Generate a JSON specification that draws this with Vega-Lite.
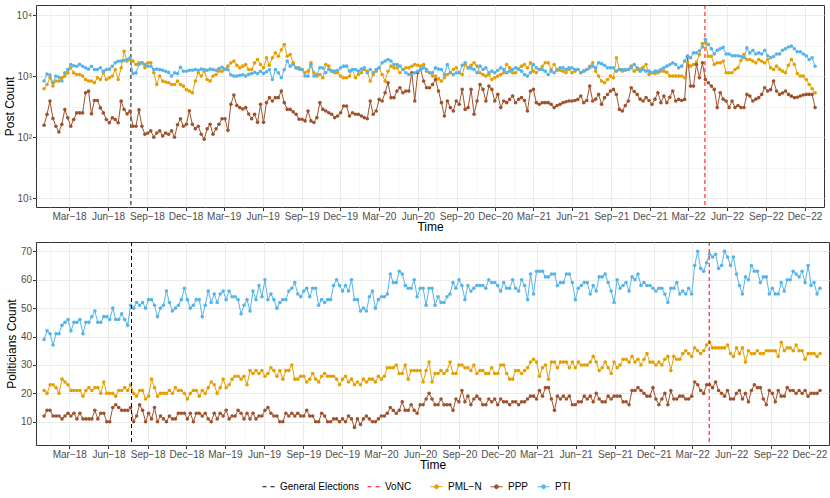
{
  "$schema": "https://vega.github.io/schema/vega-lite/v6.json",
  "description": "Weekly post count and politicians count by party, 2018-2022",
  "padding": {"left": 2, "top": 4, "right": 4, "bottom": 2},
  "background": "white",
  "config": {
    "font": "Liberation Sans",
    "view": {"stroke": "#333333", "strokeWidth": 1},
    "axis": {
      "labelFont": "Liberation Sans",
      "labelFontSize": 10,
      "labelColor": "#4D4D4D",
      "titleFont": "Liberation Sans",
      "titleFontSize": 12,
      "titleFontWeight": "normal",
      "titleColor": "black",
      "tickColor": "#333333",
      "tickSize": 3.5,
      "domain": false,
      "gridColor": "#EBEBEB",
      "labelPadding": 1,
      "titlePadding": 2
    },
    "legend": {
      "labelFont": "Liberation Sans",
      "labelFontSize": 10,
      "labelColor": "black",
      "labelOffset": 5,
      "columnPadding": 6,
      "padding": 0,
      "offset": 9,
      "symbolSize": 144,
      "layout": {"bottom": {"anchor": "middle", "direction": "horizontal", "margin": 18}}
    }
  },
  "datasets": {
    "events": [
      {"week": "2018-07-25", "event": "General Elections"},
      {"week": "2022-04-10", "event": "VoNC"}
    ],
    "posts": [
      {"week":"2018-01-01","PML-N":620,"PPP":157,"PTI":830},
      {"week":"2018-01-08","PML-N":730,"PPP":236,"PTI":1080},
      {"week":"2018-01-15","PML-N":940,"PPP":390,"PTI":1040},
      {"week":"2018-01-22","PML-N":690,"PPP":202,"PTI":780},
      {"week":"2018-01-29","PML-N":830,"PPP":151,"PTI":1000},
      {"week":"2018-02-05","PML-N":830,"PPP":122,"PTI":960},
      {"week":"2018-02-12","PML-N":940,"PPP":162,"PTI":830},
      {"week":"2018-02-19","PML-N":1000,"PPP":284,"PTI":1130},
      {"week":"2018-02-26","PML-N":1130,"PPP":208,"PTI":1280},
      {"week":"2018-03-05","PML-N":1370,"PPP":151,"PTI":1550},
      {"week":"2018-03-12","PML-N":1130,"PPP":195,"PTI":1480},
      {"week":"2018-03-19","PML-N":1064,"PPP":250,"PTI":1450},
      {"week":"2018-03-26","PML-N":1064,"PPP":250,"PTI":1560},
      {"week":"2018-04-02","PML-N":1000,"PPP":250,"PTI":1450},
      {"week":"2018-04-09","PML-N":880,"PPP":533,"PTI":1370},
      {"week":"2018-04-16","PML-N":830,"PPP":568,"PTI":1300},
      {"week":"2018-04-23","PML-N":830,"PPP":241,"PTI":1450},
      {"week":"2018-04-30","PML-N":780,"PPP":400,"PTI":1280},
      {"week":"2018-05-07","PML-N":940,"PPP":400,"PTI":1280},
      {"week":"2018-05-14","PML-N":880,"PPP":302,"PTI":1370},
      {"week":"2018-05-21","PML-N":1133,"PPP":250,"PTI":1200},
      {"week":"2018-05-28","PML-N":880,"PPP":195,"PTI":1280},
      {"week":"2018-06-04","PML-N":940,"PPP":172,"PTI":1300},
      {"week":"2018-06-11","PML-N":1000,"PPP":208,"PTI":1450},
      {"week":"2018-06-18","PML-N":1284,"PPP":195,"PTI":1650},
      {"week":"2018-06-25","PML-N":880,"PPP":172,"PTI":1750},
      {"week":"2018-07-02","PML-N":1367,"PPP":389,"PTI":1760},
      {"week":"2018-07-09","PML-N":2560,"PPP":284,"PTI":1800},
      {"week":"2018-07-16","PML-N":1760,"PPP":241,"PTI":1870},
      {"week":"2018-07-23","PML-N":1870,"PPP":267,"PTI":1990},
      {"week":"2018-07-30","PML-N":1760,"PPP":151,"PTI":1100},
      {"week":"2018-08-06","PML-N":1550,"PPP":151,"PTI":1130},
      {"week":"2018-08-13","PML-N":1650,"PPP":280,"PTI":1550},
      {"week":"2018-08-20","PML-N":1650,"PPP":151,"PTI":1650},
      {"week":"2018-08-27","PML-N":1367,"PPP":112,"PTI":1550},
      {"week":"2018-09-03","PML-N":1650,"PPP":117,"PTI":1450},
      {"week":"2018-09-10","PML-N":1650,"PPP":127,"PTI":1450},
      {"week":"2018-09-17","PML-N":1133,"PPP":100,"PTI":1280},
      {"week":"2018-09-24","PML-N":731,"PPP":117,"PTI":1300},
      {"week":"2018-10-01","PML-N":1000,"PPP":127,"PTI":1280},
      {"week":"2018-10-08","PML-N":829,"PPP":105,"PTI":1250},
      {"week":"2018-10-15","PML-N":800,"PPP":117,"PTI":1200},
      {"week":"2018-10-22","PML-N":778,"PPP":112,"PTI":1150},
      {"week":"2018-10-29","PML-N":731,"PPP":127,"PTI":1000},
      {"week":"2018-11-05","PML-N":731,"PPP":100,"PTI":1130},
      {"week":"2018-11-12","PML-N":829,"PPP":160,"PTI":1100},
      {"week":"2018-11-19","PML-N":731,"PPP":200,"PTI":1400},
      {"week":"2018-11-26","PML-N":687,"PPP":151,"PTI":1200},
      {"week":"2018-12-03","PML-N":600,"PPP":163,"PTI":1200},
      {"week":"2018-12-10","PML-N":569,"PPP":270,"PTI":1250},
      {"week":"2018-12-17","PML-N":535,"PPP":163,"PTI":1250},
      {"week":"2018-12-24","PML-N":829,"PPP":137,"PTI":1280},
      {"week":"2018-12-31","PML-N":1133,"PPP":151,"PTI":1250},
      {"week":"2019-01-07","PML-N":1000,"PPP":112,"PTI":1300},
      {"week":"2019-01-14","PML-N":1206,"PPP":93,"PTI":1280},
      {"week":"2019-01-21","PML-N":882,"PPP":137,"PTI":1250},
      {"week":"2019-01-28","PML-N":829,"PPP":163,"PTI":1300},
      {"week":"2019-02-04","PML-N":1000,"PPP":112,"PTI":1280},
      {"week":"2019-02-11","PML-N":1064,"PPP":137,"PTI":1250},
      {"week":"2019-02-18","PML-N":1206,"PPP":163,"PTI":1330},
      {"week":"2019-02-25","PML-N":1206,"PPP":200,"PTI":1400},
      {"week":"2019-03-04","PML-N":1284,"PPP":200,"PTI":1300},
      {"week":"2019-03-11","PML-N":1455,"PPP":130,"PTI":1280},
      {"week":"2019-03-18","PML-N":1650,"PPP":345,"PTI":1050},
      {"week":"2019-03-25","PML-N":1760,"PPP":490,"PTI":1000},
      {"week":"2019-04-01","PML-N":1500,"PPP":330,"PTI":1000},
      {"week":"2019-04-08","PML-N":1367,"PPP":305,"PTI":1030},
      {"week":"2019-04-15","PML-N":1455,"PPP":290,"PTI":1050},
      {"week":"2019-04-22","PML-N":1550,"PPP":305,"PTI":1000},
      {"week":"2019-04-29","PML-N":1284,"PPP":240,"PTI":1070},
      {"week":"2019-05-06","PML-N":1284,"PPP":200,"PTI":1100},
      {"week":"2019-05-13","PML-N":1650,"PPP":237,"PTI":1150},
      {"week":"2019-05-20","PML-N":1870,"PPP":175,"PTI":1100},
      {"week":"2019-05-27","PML-N":1550,"PPP":345,"PTI":1200},
      {"week":"2019-06-03","PML-N":1367,"PPP":175,"PTI":1100},
      {"week":"2019-06-10","PML-N":1990,"PPP":368,"PTI":1180},
      {"week":"2019-06-17","PML-N":1500,"PPP":444,"PTI":1280},
      {"week":"2019-06-24","PML-N":1990,"PPP":391,"PTI":880},
      {"week":"2019-07-01","PML-N":2400,"PPP":444,"PTI":1280},
      {"week":"2019-07-08","PML-N":2120,"PPP":444,"PTI":1130},
      {"week":"2019-07-15","PML-N":2700,"PPP":569,"PTI":940},
      {"week":"2019-07-22","PML-N":3280,"PPP":368,"PTI":1280},
      {"week":"2019-07-29","PML-N":2120,"PPP":285,"PTI":1760},
      {"week":"2019-08-05","PML-N":2250,"PPP":285,"PTI":1455},
      {"week":"2019-08-12","PML-N":1650,"PPP":260,"PTI":1550},
      {"week":"2019-08-19","PML-N":1367,"PPP":237,"PTI":1367},
      {"week":"2019-08-26","PML-N":1367,"PPP":197,"PTI":1300},
      {"week":"2019-09-02","PML-N":1284,"PPP":197,"PTI":1284},
      {"week":"2019-09-09","PML-N":1133,"PPP":185,"PTI":1000},
      {"week":"2019-09-16","PML-N":1206,"PPP":269,"PTI":1000},
      {"week":"2019-09-23","PML-N":1650,"PPP":185,"PTI":1550},
      {"week":"2019-09-30","PML-N":1133,"PPP":174,"PTI":1000},
      {"week":"2019-10-07","PML-N":1000,"PPP":209,"PTI":1064},
      {"week":"2019-10-14","PML-N":1064,"PPP":368,"PTI":1367},
      {"week":"2019-10-21","PML-N":939,"PPP":285,"PTI":1367},
      {"week":"2019-10-28","PML-N":1550,"PPP":269,"PTI":1133},
      {"week":"2019-11-04","PML-N":1455,"PPP":252,"PTI":1284},
      {"week":"2019-11-11","PML-N":1206,"PPP":237,"PTI":1206},
      {"week":"2019-11-18","PML-N":1133,"PPP":209,"PTI":1206},
      {"week":"2019-11-25","PML-N":1133,"PPP":222,"PTI":1250},
      {"week":"2019-12-02","PML-N":1000,"PPP":252,"PTI":1367},
      {"week":"2019-12-09","PML-N":939,"PPP":324,"PTI":1455},
      {"week":"2019-12-16","PML-N":939,"PPP":324,"PTI":1455},
      {"week":"2019-12-23","PML-N":1000,"PPP":222,"PTI":1206},
      {"week":"2019-12-30","PML-N":1284,"PPP":252,"PTI":1284},
      {"week":"2020-01-06","PML-N":939,"PPP":237,"PTI":1284},
      {"week":"2020-01-13","PML-N":1064,"PPP":237,"PTI":1206},
      {"week":"2020-01-20","PML-N":1133,"PPP":222,"PTI":1300},
      {"week":"2020-01-27","PML-N":1284,"PPP":209,"PTI":1367},
      {"week":"2020-02-03","PML-N":1200,"PPP":200,"PTI":1133},
      {"week":"2020-02-10","PML-N":829,"PPP":391,"PTI":1284},
      {"week":"2020-02-17","PML-N":1064,"PPP":237,"PTI":1133},
      {"week":"2020-02-24","PML-N":1206,"PPP":269,"PTI":1284},
      {"week":"2020-03-02","PML-N":1367,"PPP":416,"PTI":1367},
      {"week":"2020-03-09","PML-N":1064,"PPP":391,"PTI":1650},
      {"week":"2020-03-16","PML-N":829,"PPP":535,"PTI":1760},
      {"week":"2020-03-23","PML-N":1200,"PPP":778,"PTI":1870},
      {"week":"2020-03-30","PML-N":1455,"PPP":444,"PTI":1760},
      {"week":"2020-04-06","PML-N":1367,"PPP":444,"PTI":1550},
      {"week":"2020-04-13","PML-N":1367,"PPP":569,"PTI":1550},
      {"week":"2020-04-20","PML-N":1133,"PPP":645,"PTI":1455},
      {"week":"2020-04-27","PML-N":1284,"PPP":535,"PTI":1284},
      {"week":"2020-05-04","PML-N":1367,"PPP":569,"PTI":1133},
      {"week":"2020-05-11","PML-N":1367,"PPP":569,"PTI":1064},
      {"week":"2020-05-18","PML-N":1450,"PPP":1133,"PTI":1064},
      {"week":"2020-05-25","PML-N":1550,"PPP":391,"PTI":1133},
      {"week":"2020-06-01","PML-N":1500,"PPP":1133,"PTI":1200},
      {"week":"2020-06-08","PML-N":1455,"PPP":1284,"PTI":1284},
      {"week":"2020-06-15","PML-N":1550,"PPP":829,"PTI":1367},
      {"week":"2020-06-22","PML-N":1206,"PPP":645,"PTI":1284},
      {"week":"2020-06-29","PML-N":1133,"PPP":645,"PTI":1133},
      {"week":"2020-07-06","PML-N":1000,"PPP":731,"PTI":1133},
      {"week":"2020-07-13","PML-N":1000,"PPP":882,"PTI":1367},
      {"week":"2020-07-20","PML-N":900,"PPP":569,"PTI":1300},
      {"week":"2020-07-27","PML-N":829,"PPP":368,"PTI":1284},
      {"week":"2020-08-03","PML-N":939,"PPP":222,"PTI":1064},
      {"week":"2020-08-10","PML-N":1064,"PPP":391,"PTI":1550},
      {"week":"2020-08-17","PML-N":1133,"PPP":305,"PTI":1133},
      {"week":"2020-08-24","PML-N":1284,"PPP":269,"PTI":1064},
      {"week":"2020-08-31","PML-N":1367,"PPP":391,"PTI":1133},
      {"week":"2020-09-07","PML-N":1133,"PPP":345,"PTI":1133},
      {"week":"2020-09-14","PML-N":1064,"PPP":606,"PTI":1500},
      {"week":"2020-09-21","PML-N":1550,"PPP":285,"PTI":1650},
      {"week":"2020-09-28","PML-N":1367,"PPP":305,"PTI":1367},
      {"week":"2020-10-05","PML-N":1500,"PPP":606,"PTI":1350},
      {"week":"2020-10-12","PML-N":1650,"PPP":237,"PTI":1284},
      {"week":"2020-10-19","PML-N":1455,"PPP":391,"PTI":1133},
      {"week":"2020-10-26","PML-N":1133,"PPP":731,"PTI":1455},
      {"week":"2020-11-02","PML-N":1064,"PPP":606,"PTI":1284},
      {"week":"2020-11-09","PML-N":1000,"PPP":391,"PTI":1367},
      {"week":"2020-11-16","PML-N":1064,"PPP":687,"PTI":1133},
      {"week":"2020-11-23","PML-N":882,"PPP":606,"PTI":1206},
      {"week":"2020-11-30","PML-N":939,"PPP":391,"PTI":1133},
      {"week":"2020-12-07","PML-N":1000,"PPP":502,"PTI":1250},
      {"week":"2020-12-14","PML-N":1064,"PPP":305,"PTI":1367},
      {"week":"2020-12-21","PML-N":1133,"PPP":391,"PTI":1284},
      {"week":"2020-12-28","PML-N":1550,"PPP":368,"PTI":1133},
      {"week":"2021-01-04","PML-N":1367,"PPP":416,"PTI":1206},
      {"week":"2021-01-11","PML-N":1133,"PPP":472,"PTI":1284},
      {"week":"2021-01-18","PML-N":1133,"PPP":368,"PTI":1367},
      {"week":"2021-01-25","PML-N":1300,"PPP":416,"PTI":1300},
      {"week":"2021-02-01","PML-N":1455,"PPP":444,"PTI":1206},
      {"week":"2021-02-08","PML-N":1550,"PPP":400,"PTI":1064},
      {"week":"2021-02-15","PML-N":1367,"PPP":269,"PTI":1000},
      {"week":"2021-02-22","PML-N":1650,"PPP":569,"PTI":1133},
      {"week":"2021-03-01","PML-N":1206,"PPP":606,"PTI":1550},
      {"week":"2021-03-08","PML-N":1133,"PPP":368,"PTI":1367},
      {"week":"2021-03-15","PML-N":1284,"PPP":345,"PTI":1284},
      {"week":"2021-03-22","PML-N":1450,"PPP":368,"PTI":1284},
      {"week":"2021-03-29","PML-N":1650,"PPP":368,"PTI":1206},
      {"week":"2021-04-05","PML-N":1650,"PPP":368,"PTI":1064},
      {"week":"2021-04-12","PML-N":1284,"PPP":345,"PTI":1206},
      {"week":"2021-04-19","PML-N":1550,"PPP":305,"PTI":1133},
      {"week":"2021-04-26","PML-N":1284,"PPP":330,"PTI":1250},
      {"week":"2021-05-03","PML-N":1250,"PPP":345,"PTI":1367},
      {"week":"2021-05-10","PML-N":1206,"PPP":368,"PTI":1367},
      {"week":"2021-05-17","PML-N":1133,"PPP":380,"PTI":1284},
      {"week":"2021-05-24","PML-N":1284,"PPP":391,"PTI":1367},
      {"week":"2021-05-31","PML-N":1133,"PPP":391,"PTI":1367},
      {"week":"2021-06-07","PML-N":1200,"PPP":400,"PTI":1284},
      {"week":"2021-06-14","PML-N":1284,"PPP":416,"PTI":1284},
      {"week":"2021-06-21","PML-N":1133,"PPP":472,"PTI":1133},
      {"week":"2021-06-28","PML-N":1206,"PPP":368,"PTI":1206},
      {"week":"2021-07-05","PML-N":1284,"PPP":400,"PTI":1284},
      {"week":"2021-07-12","PML-N":1450,"PPP":687,"PTI":1367},
      {"week":"2021-07-19","PML-N":1650,"PPP":391,"PTI":1455},
      {"week":"2021-07-26","PML-N":1206,"PPP":420,"PTI":1367},
      {"week":"2021-08-02","PML-N":1000,"PPP":502,"PTI":1650},
      {"week":"2021-08-09","PML-N":829,"PPP":345,"PTI":1600},
      {"week":"2021-08-16","PML-N":778,"PPP":444,"PTI":1500},
      {"week":"2021-08-23","PML-N":880,"PPP":500,"PTI":1367},
      {"week":"2021-08-30","PML-N":1000,"PPP":569,"PTI":1367},
      {"week":"2021-09-06","PML-N":939,"PPP":606,"PTI":1367},
      {"week":"2021-09-13","PML-N":1990,"PPP":500,"PTI":1206},
      {"week":"2021-09-20","PML-N":1284,"PPP":285,"PTI":1284},
      {"week":"2021-09-27","PML-N":1206,"PPP":269,"PTI":1284},
      {"week":"2021-10-04","PML-N":1250,"PPP":330,"PTI":1284},
      {"week":"2021-10-11","PML-N":1284,"PPP":391,"PTI":1284},
      {"week":"2021-10-18","PML-N":1455,"PPP":645,"PTI":1367},
      {"week":"2021-10-25","PML-N":1206,"PPP":560,"PTI":1550},
      {"week":"2021-11-01","PML-N":1284,"PPP":502,"PTI":1367},
      {"week":"2021-11-08","PML-N":1300,"PPP":420,"PTI":1206},
      {"week":"2021-11-15","PML-N":1400,"PPP":391,"PTI":1284},
      {"week":"2021-11-22","PML-N":1550,"PPP":444,"PTI":1206},
      {"week":"2021-11-29","PML-N":1064,"PPP":400,"PTI":1206},
      {"week":"2021-12-06","PML-N":1133,"PPP":345,"PTI":1133},
      {"week":"2021-12-13","PML-N":1100,"PPP":420,"PTI":1206},
      {"week":"2021-12-20","PML-N":1133,"PPP":535,"PTI":1206},
      {"week":"2021-12-27","PML-N":1206,"PPP":368,"PTI":1284},
      {"week":"2022-01-03","PML-N":1206,"PPP":472,"PTI":1367},
      {"week":"2022-01-10","PML-N":1150,"PPP":368,"PTI":1455},
      {"week":"2022-01-17","PML-N":1000,"PPP":450,"PTI":1550},
      {"week":"2022-01-24","PML-N":1000,"PPP":569,"PTI":1650},
      {"week":"2022-01-31","PML-N":1000,"PPP":391,"PTI":1550},
      {"week":"2022-02-07","PML-N":1000,"PPP":416,"PTI":1367},
      {"week":"2022-02-14","PML-N":1000,"PPP":400,"PTI":1455},
      {"week":"2022-02-21","PML-N":939,"PPP":416,"PTI":1760},
      {"week":"2022-02-28","PML-N":1650,"PPP":2120,"PTI":2130},
      {"week":"2022-03-07","PML-N":1455,"PPP":687,"PTI":2000},
      {"week":"2022-03-14","PML-N":1550,"PPP":687,"PTI":2400},
      {"week":"2022-03-21","PML-N":1700,"PPP":1550,"PTI":2400},
      {"week":"2022-03-28","PML-N":2250,"PPP":939,"PTI":2600},
      {"week":"2022-04-04","PML-N":3400,"PPP":1650,"PTI":3000},
      {"week":"2022-04-11","PML-N":3490,"PPP":882,"PTI":4000},
      {"week":"2022-04-18","PML-N":2120,"PPP":780,"PTI":3300},
      {"week":"2022-04-25","PML-N":2120,"PPP":687,"PTI":2800},
      {"week":"2022-05-02","PML-N":1550,"PPP":606,"PTI":2300},
      {"week":"2022-05-09","PML-N":1650,"PPP":305,"PTI":2650},
      {"week":"2022-05-16","PML-N":1650,"PPP":535,"PTI":2800},
      {"week":"2022-05-23","PML-N":1760,"PPP":420,"PTI":2950},
      {"week":"2022-05-30","PML-N":1133,"PPP":391,"PTI":2300},
      {"week":"2022-06-06","PML-N":1133,"PPP":305,"PTI":2300},
      {"week":"2022-06-13","PML-N":1133,"PPP":391,"PTI":2150},
      {"week":"2022-06-20","PML-N":1284,"PPP":305,"PTI":2150},
      {"week":"2022-06-27","PML-N":1367,"PPP":330,"PTI":2150},
      {"week":"2022-07-04","PML-N":1800,"PPP":305,"PTI":2100},
      {"week":"2022-07-11","PML-N":2250,"PPP":305,"PTI":2000},
      {"week":"2022-07-18","PML-N":1870,"PPP":502,"PTI":2900},
      {"week":"2022-07-25","PML-N":1870,"PPP":472,"PTI":2400},
      {"week":"2022-08-01","PML-N":1760,"PPP":391,"PTI":2650},
      {"week":"2022-08-08","PML-N":1650,"PPP":420,"PTI":2300},
      {"week":"2022-08-15","PML-N":1870,"PPP":444,"PTI":2400},
      {"week":"2022-08-22","PML-N":1750,"PPP":502,"PTI":2300},
      {"week":"2022-08-29","PML-N":1650,"PPP":645,"PTI":2650},
      {"week":"2022-09-05","PML-N":1870,"PPP":569,"PTI":2150},
      {"week":"2022-09-12","PML-N":1367,"PPP":600,"PTI":2000},
      {"week":"2022-09-19","PML-N":1284,"PPP":829,"PTI":2100},
      {"week":"2022-09-26","PML-N":1455,"PPP":569,"PTI":2300},
      {"week":"2022-10-03","PML-N":1300,"PPP":502,"PTI":2300},
      {"week":"2022-10-10","PML-N":1206,"PPP":530,"PTI":2650},
      {"week":"2022-10-17","PML-N":1133,"PPP":569,"PTI":2800},
      {"week":"2022-10-24","PML-N":1500,"PPP":502,"PTI":3000},
      {"week":"2022-10-31","PML-N":1870,"PPP":470,"PTI":3100},
      {"week":"2022-11-07","PML-N":1550,"PPP":444,"PTI":2800},
      {"week":"2022-11-14","PML-N":1100,"PPP":450,"PTI":2500},
      {"week":"2022-11-21","PML-N":1000,"PPP":472,"PTI":2500},
      {"week":"2022-11-28","PML-N":1000,"PPP":490,"PTI":2300},
      {"week":"2022-12-05","PML-N":882,"PPP":502,"PTI":2150},
      {"week":"2022-12-12","PML-N":731,"PPP":502,"PTI":1870},
      {"week":"2022-12-19","PML-N":620,"PPP":502,"PTI":2000},
      {"week":"2022-12-26","PML-N":535,"PPP":305,"PTI":1450}
    ],
    "politicians": [
      {"week":"2018-01-01","PML-N":21,"PPP":12,"PTI":39},
      {"week":"2018-01-08","PML-N":20,"PPP":14,"PTI":42},
      {"week":"2018-01-15","PML-N":23,"PPP":14,"PTI":41},
      {"week":"2018-01-22","PML-N":23,"PPP":12,"PTI":37},
      {"week":"2018-01-29","PML-N":22,"PPP":12,"PTI":41},
      {"week":"2018-02-05","PML-N":20,"PPP":12,"PTI":41},
      {"week":"2018-02-12","PML-N":25,"PPP":11,"PTI":44},
      {"week":"2018-02-19","PML-N":24,"PPP":12,"PTI":45},
      {"week":"2018-02-26","PML-N":23,"PPP":13,"PTI":46},
      {"week":"2018-03-05","PML-N":21,"PPP":12,"PTI":42},
      {"week":"2018-03-12","PML-N":21,"PPP":13,"PTI":45},
      {"week":"2018-03-19","PML-N":21,"PPP":11,"PTI":45},
      {"week":"2018-03-26","PML-N":21,"PPP":13,"PTI":46},
      {"week":"2018-04-02","PML-N":19,"PPP":11,"PTI":41},
      {"week":"2018-04-09","PML-N":21,"PPP":11,"PTI":45},
      {"week":"2018-04-16","PML-N":22,"PPP":11,"PTI":45},
      {"week":"2018-04-23","PML-N":21,"PPP":11,"PTI":47},
      {"week":"2018-04-30","PML-N":22,"PPP":14,"PTI":49},
      {"week":"2018-05-07","PML-N":22,"PPP":11,"PTI":45},
      {"week":"2018-05-14","PML-N":20,"PPP":13,"PTI":45},
      {"week":"2018-05-21","PML-N":24,"PPP":13,"PTI":47},
      {"week":"2018-05-28","PML-N":20,"PPP":10,"PTI":47},
      {"week":"2018-06-04","PML-N":20,"PPP":10,"PTI":46},
      {"week":"2018-06-11","PML-N":20,"PPP":15,"PTI":50},
      {"week":"2018-06-18","PML-N":19,"PPP":16,"PTI":46},
      {"week":"2018-06-25","PML-N":21,"PPP":15,"PTI":46},
      {"week":"2018-07-02","PML-N":21,"PPP":14,"PTI":48},
      {"week":"2018-07-09","PML-N":22,"PPP":14,"PTI":46},
      {"week":"2018-07-16","PML-N":21,"PPP":14,"PTI":44},
      {"week":"2018-07-23","PML-N":23,"PPP":15,"PTI":51},
      {"week":"2018-07-30","PML-N":20,"PPP":10,"PTI":50},
      {"week":"2018-08-06","PML-N":19,"PPP":12,"PTI":52},
      {"week":"2018-08-13","PML-N":21,"PPP":16,"PTI":51},
      {"week":"2018-08-20","PML-N":21,"PPP":14,"PTI":52},
      {"week":"2018-08-27","PML-N":18,"PPP":10,"PTI":50},
      {"week":"2018-09-03","PML-N":19,"PPP":13,"PTI":53},
      {"week":"2018-09-10","PML-N":25,"PPP":11,"PTI":53},
      {"week":"2018-09-17","PML-N":22,"PPP":15,"PTI":51},
      {"week":"2018-09-24","PML-N":19,"PPP":10,"PTI":47},
      {"week":"2018-10-01","PML-N":20,"PPP":12,"PTI":50},
      {"week":"2018-10-08","PML-N":20,"PPP":11,"PTI":51},
      {"week":"2018-10-15","PML-N":20,"PPP":10,"PTI":56},
      {"week":"2018-10-22","PML-N":21,"PPP":12,"PTI":52},
      {"week":"2018-10-29","PML-N":20,"PPP":11,"PTI":49},
      {"week":"2018-11-05","PML-N":22,"PPP":11,"PTI":50},
      {"week":"2018-11-12","PML-N":21,"PPP":13,"PTI":51},
      {"week":"2018-11-19","PML-N":21,"PPP":13,"PTI":53},
      {"week":"2018-11-26","PML-N":20,"PPP":13,"PTI":57},
      {"week":"2018-12-03","PML-N":18,"PPP":11,"PTI":53},
      {"week":"2018-12-10","PML-N":20,"PPP":13,"PTI":50},
      {"week":"2018-12-17","PML-N":21,"PPP":10,"PTI":51},
      {"week":"2018-12-24","PML-N":21,"PPP":13,"PTI":53},
      {"week":"2018-12-31","PML-N":19,"PPP":13,"PTI":53},
      {"week":"2019-01-07","PML-N":21,"PPP":12,"PTI":47},
      {"week":"2019-01-14","PML-N":20,"PPP":13,"PTI":51},
      {"week":"2019-01-21","PML-N":22,"PPP":11,"PTI":56},
      {"week":"2019-01-28","PML-N":24,"PPP":10,"PTI":52},
      {"week":"2019-02-04","PML-N":23,"PPP":13,"PTI":55},
      {"week":"2019-02-11","PML-N":20,"PPP":11,"PTI":52},
      {"week":"2019-02-18","PML-N":22,"PPP":13,"PTI":55},
      {"week":"2019-02-25","PML-N":25,"PPP":12,"PTI":56},
      {"week":"2019-03-04","PML-N":22,"PPP":14,"PTI":53},
      {"week":"2019-03-11","PML-N":23,"PPP":11,"PTI":56},
      {"week":"2019-03-18","PML-N":25,"PPP":12,"PTI":54},
      {"week":"2019-03-25","PML-N":26,"PPP":12,"PTI":54},
      {"week":"2019-04-01","PML-N":26,"PPP":14,"PTI":53},
      {"week":"2019-04-08","PML-N":25,"PPP":13,"PTI":48},
      {"week":"2019-04-15","PML-N":26,"PPP":11,"PTI":51},
      {"week":"2019-04-22","PML-N":23,"PPP":13,"PTI":53},
      {"week":"2019-04-29","PML-N":28,"PPP":11,"PTI":49},
      {"week":"2019-05-06","PML-N":27,"PPP":13,"PTI":56},
      {"week":"2019-05-13","PML-N":28,"PPP":11,"PTI":53},
      {"week":"2019-05-20","PML-N":27,"PPP":12,"PTI":58},
      {"week":"2019-05-27","PML-N":28,"PPP":12,"PTI":54},
      {"week":"2019-06-03","PML-N":26,"PPP":14,"PTI":60},
      {"week":"2019-06-10","PML-N":27,"PPP":15,"PTI":53},
      {"week":"2019-06-17","PML-N":29,"PPP":13,"PTI":55},
      {"week":"2019-06-24","PML-N":28,"PPP":12,"PTI":53},
      {"week":"2019-07-01","PML-N":26,"PPP":12,"PTI":50},
      {"week":"2019-07-08","PML-N":28,"PPP":10,"PTI":52},
      {"week":"2019-07-15","PML-N":25,"PPP":10,"PTI":53},
      {"week":"2019-07-22","PML-N":28,"PPP":13,"PTI":53},
      {"week":"2019-07-29","PML-N":28,"PPP":12,"PTI":56},
      {"week":"2019-08-05","PML-N":30,"PPP":13,"PTI":57},
      {"week":"2019-08-12","PML-N":25,"PPP":12,"PTI":59},
      {"week":"2019-08-19","PML-N":25,"PPP":13,"PTI":55},
      {"week":"2019-08-26","PML-N":26,"PPP":12,"PTI":54},
      {"week":"2019-09-02","PML-N":26,"PPP":12,"PTI":56},
      {"week":"2019-09-09","PML-N":24,"PPP":14,"PTI":57},
      {"week":"2019-09-16","PML-N":25,"PPP":12,"PTI":54},
      {"week":"2019-09-23","PML-N":27,"PPP":12,"PTI":57},
      {"week":"2019-09-30","PML-N":25,"PPP":10,"PTI":57},
      {"week":"2019-10-07","PML-N":24,"PPP":10,"PTI":51},
      {"week":"2019-10-14","PML-N":26,"PPP":13,"PTI":53},
      {"week":"2019-10-21","PML-N":27,"PPP":12,"PTI":52},
      {"week":"2019-10-28","PML-N":26,"PPP":10,"PTI":53},
      {"week":"2019-11-04","PML-N":26,"PPP":10,"PTI":53},
      {"week":"2019-11-11","PML-N":26,"PPP":11,"PTI":58},
      {"week":"2019-11-18","PML-N":25,"PPP":11,"PTI":60},
      {"week":"2019-11-25","PML-N":23,"PPP":10,"PTI":58},
      {"week":"2019-12-02","PML-N":25,"PPP":11,"PTI":56},
      {"week":"2019-12-09","PML-N":26,"PPP":10,"PTI":58},
      {"week":"2019-12-16","PML-N":24,"PPP":12,"PTI":56},
      {"week":"2019-12-23","PML-N":25,"PPP":11,"PTI":60},
      {"week":"2019-12-30","PML-N":23,"PPP":8,"PTI":53},
      {"week":"2020-01-06","PML-N":24,"PPP":11,"PTI":53},
      {"week":"2020-01-13","PML-N":23,"PPP":9,"PTI":49},
      {"week":"2020-01-20","PML-N":25,"PPP":11,"PTI":50},
      {"week":"2020-01-27","PML-N":24,"PPP":12,"PTI":49},
      {"week":"2020-02-03","PML-N":25,"PPP":11,"PTI":54},
      {"week":"2020-02-10","PML-N":25,"PPP":10,"PTI":56},
      {"week":"2020-02-17","PML-N":24,"PPP":10,"PTI":50},
      {"week":"2020-02-24","PML-N":26,"PPP":11,"PTI":53},
      {"week":"2020-03-02","PML-N":25,"PPP":12,"PTI":54},
      {"week":"2020-03-09","PML-N":26,"PPP":12,"PTI":54},
      {"week":"2020-03-16","PML-N":29,"PPP":13,"PTI":55},
      {"week":"2020-03-23","PML-N":29,"PPP":15,"PTI":62},
      {"week":"2020-03-30","PML-N":29,"PPP":14,"PTI":59},
      {"week":"2020-04-06","PML-N":30,"PPP":13,"PTI":59},
      {"week":"2020-04-13","PML-N":27,"PPP":14,"PTI":63},
      {"week":"2020-04-20","PML-N":27,"PPP":17,"PTI":62},
      {"week":"2020-04-27","PML-N":30,"PPP":14,"PTI":58},
      {"week":"2020-05-04","PML-N":25,"PPP":14,"PTI":57},
      {"week":"2020-05-11","PML-N":28,"PPP":16,"PTI":57},
      {"week":"2020-05-18","PML-N":28,"PPP":14,"PTI":60},
      {"week":"2020-05-25","PML-N":28,"PPP":13,"PTI":54},
      {"week":"2020-06-01","PML-N":28,"PPP":16,"PTI":57},
      {"week":"2020-06-08","PML-N":24,"PPP":16,"PTI":57},
      {"week":"2020-06-15","PML-N":28,"PPP":18,"PTI":51},
      {"week":"2020-06-22","PML-N":31,"PPP":20,"PTI":57},
      {"week":"2020-06-29","PML-N":24,"PPP":18,"PTI":57},
      {"week":"2020-07-06","PML-N":27,"PPP":16,"PTI":51},
      {"week":"2020-07-13","PML-N":27,"PPP":16,"PTI":54},
      {"week":"2020-07-20","PML-N":28,"PPP":18,"PTI":52},
      {"week":"2020-07-27","PML-N":27,"PPP":16,"PTI":52},
      {"week":"2020-08-03","PML-N":28,"PPP":16,"PTI":54},
      {"week":"2020-08-10","PML-N":31,"PPP":16,"PTI":55},
      {"week":"2020-08-17","PML-N":27,"PPP":14,"PTI":59},
      {"week":"2020-08-24","PML-N":27,"PPP":18,"PTI":57},
      {"week":"2020-08-31","PML-N":30,"PPP":17,"PTI":60},
      {"week":"2020-09-07","PML-N":30,"PPP":21,"PTI":58},
      {"week":"2020-09-14","PML-N":29,"PPP":17,"PTI":53},
      {"week":"2020-09-21","PML-N":29,"PPP":19,"PTI":58},
      {"week":"2020-09-28","PML-N":28,"PPP":16,"PTI":56},
      {"week":"2020-10-05","PML-N":30,"PPP":18,"PTI":57},
      {"week":"2020-10-12","PML-N":27,"PPP":19,"PTI":58},
      {"week":"2020-10-19","PML-N":28,"PPP":18,"PTI":58},
      {"week":"2020-10-26","PML-N":28,"PPP":16,"PTI":58},
      {"week":"2020-11-02","PML-N":27,"PPP":16,"PTI":57},
      {"week":"2020-11-09","PML-N":27,"PPP":18,"PTI":60},
      {"week":"2020-11-16","PML-N":29,"PPP":17,"PTI":59},
      {"week":"2020-11-23","PML-N":27,"PPP":18,"PTI":59},
      {"week":"2020-11-30","PML-N":27,"PPP":16,"PTI":58},
      {"week":"2020-12-07","PML-N":30,"PPP":18,"PTI":56},
      {"week":"2020-12-14","PML-N":30,"PPP":17,"PTI":59},
      {"week":"2020-12-21","PML-N":27,"PPP":17,"PTI":57},
      {"week":"2020-12-28","PML-N":25,"PPP":16,"PTI":57},
      {"week":"2021-01-04","PML-N":25,"PPP":17,"PTI":60},
      {"week":"2021-01-11","PML-N":28,"PPP":17,"PTI":57},
      {"week":"2021-01-18","PML-N":28,"PPP":16,"PTI":56},
      {"week":"2021-01-25","PML-N":27,"PPP":17,"PTI":60},
      {"week":"2021-02-01","PML-N":28,"PPP":17,"PTI":58},
      {"week":"2021-02-08","PML-N":29,"PPP":18,"PTI":53},
      {"week":"2021-02-15","PML-N":31,"PPP":19,"PTI":62},
      {"week":"2021-02-22","PML-N":32,"PPP":19,"PTI":55},
      {"week":"2021-03-01","PML-N":31,"PPP":18,"PTI":63},
      {"week":"2021-03-08","PML-N":26,"PPP":21,"PTI":63},
      {"week":"2021-03-15","PML-N":29,"PPP":19,"PTI":63},
      {"week":"2021-03-22","PML-N":30,"PPP":22,"PTI":61},
      {"week":"2021-03-29","PML-N":25,"PPP":22,"PTI":61},
      {"week":"2021-04-05","PML-N":31,"PPP":18,"PTI":62},
      {"week":"2021-04-12","PML-N":31,"PPP":14,"PTI":62},
      {"week":"2021-04-19","PML-N":29,"PPP":19,"PTI":58},
      {"week":"2021-04-26","PML-N":31,"PPP":18,"PTI":59},
      {"week":"2021-05-03","PML-N":31,"PPP":19,"PTI":59},
      {"week":"2021-05-10","PML-N":31,"PPP":18,"PTI":62},
      {"week":"2021-05-17","PML-N":29,"PPP":19,"PTI":62},
      {"week":"2021-05-24","PML-N":31,"PPP":16,"PTI":59},
      {"week":"2021-05-31","PML-N":29,"PPP":16,"PTI":53},
      {"week":"2021-06-07","PML-N":31,"PPP":17,"PTI":57},
      {"week":"2021-06-14","PML-N":30,"PPP":17,"PTI":58},
      {"week":"2021-06-21","PML-N":30,"PPP":19,"PTI":59},
      {"week":"2021-06-28","PML-N":30,"PPP":18,"PTI":59},
      {"week":"2021-07-05","PML-N":31,"PPP":19,"PTI":55},
      {"week":"2021-07-12","PML-N":33,"PPP":17,"PTI":58},
      {"week":"2021-07-19","PML-N":31,"PPP":20,"PTI":56},
      {"week":"2021-07-26","PML-N":28,"PPP":18,"PTI":61},
      {"week":"2021-08-02","PML-N":29,"PPP":17,"PTI":61},
      {"week":"2021-08-09","PML-N":31,"PPP":17,"PTI":62},
      {"week":"2021-08-16","PML-N":29,"PPP":19,"PTI":59},
      {"week":"2021-08-23","PML-N":27,"PPP":18,"PTI":56},
      {"week":"2021-08-30","PML-N":31,"PPP":19,"PTI":52},
      {"week":"2021-09-06","PML-N":29,"PPP":19,"PTI":60},
      {"week":"2021-09-13","PML-N":30,"PPP":19,"PTI":57},
      {"week":"2021-09-20","PML-N":32,"PPP":17,"PTI":58},
      {"week":"2021-09-27","PML-N":32,"PPP":17,"PTI":59},
      {"week":"2021-10-04","PML-N":31,"PPP":16,"PTI":56},
      {"week":"2021-10-11","PML-N":33,"PPP":21,"PTI":61},
      {"week":"2021-10-18","PML-N":31,"PPP":21,"PTI":60},
      {"week":"2021-10-25","PML-N":32,"PPP":22,"PTI":62},
      {"week":"2021-11-01","PML-N":30,"PPP":21,"PTI":58},
      {"week":"2021-11-08","PML-N":32,"PPP":20,"PTI":59},
      {"week":"2021-11-15","PML-N":34,"PPP":19,"PTI":58},
      {"week":"2021-11-22","PML-N":31,"PPP":19,"PTI":58},
      {"week":"2021-11-29","PML-N":31,"PPP":22,"PTI":57},
      {"week":"2021-12-06","PML-N":30,"PPP":18,"PTI":56},
      {"week":"2021-12-13","PML-N":31,"PPP":16,"PTI":57},
      {"week":"2021-12-20","PML-N":30,"PPP":18,"PTI":57},
      {"week":"2021-12-27","PML-N":32,"PPP":20,"PTI":55},
      {"week":"2022-01-03","PML-N":33,"PPP":16,"PTI":52},
      {"week":"2022-01-10","PML-N":28,"PPP":21,"PTI":57},
      {"week":"2022-01-17","PML-N":33,"PPP":18,"PTI":57},
      {"week":"2022-01-24","PML-N":32,"PPP":18,"PTI":59},
      {"week":"2022-01-31","PML-N":32,"PPP":19,"PTI":55},
      {"week":"2022-02-07","PML-N":34,"PPP":19,"PTI":56},
      {"week":"2022-02-14","PML-N":35,"PPP":18,"PTI":55},
      {"week":"2022-02-21","PML-N":34,"PPP":18,"PTI":57},
      {"week":"2022-02-28","PML-N":33,"PPP":19,"PTI":55},
      {"week":"2022-03-07","PML-N":36,"PPP":24,"PTI":65},
      {"week":"2022-03-14","PML-N":35,"PPP":23,"PTI":70},
      {"week":"2022-03-21","PML-N":34,"PPP":21,"PTI":64},
      {"week":"2022-03-28","PML-N":35,"PPP":20,"PTI":63},
      {"week":"2022-04-04","PML-N":37,"PPP":23,"PTI":66},
      {"week":"2022-04-11","PML-N":38,"PPP":23,"PTI":69},
      {"week":"2022-04-18","PML-N":36,"PPP":22,"PTI":68},
      {"week":"2022-04-25","PML-N":36,"PPP":24,"PTI":69},
      {"week":"2022-05-02","PML-N":36,"PPP":21,"PTI":64},
      {"week":"2022-05-09","PML-N":36,"PPP":20,"PTI":65},
      {"week":"2022-05-16","PML-N":36,"PPP":19,"PTI":70},
      {"week":"2022-05-23","PML-N":37,"PPP":21,"PTI":68},
      {"week":"2022-05-30","PML-N":34,"PPP":18,"PTI":65},
      {"week":"2022-06-06","PML-N":33,"PPP":18,"PTI":68},
      {"week":"2022-06-13","PML-N":36,"PPP":20,"PTI":62},
      {"week":"2022-06-20","PML-N":34,"PPP":21,"PTI":58},
      {"week":"2022-06-27","PML-N":36,"PPP":18,"PTI":55},
      {"week":"2022-07-04","PML-N":31,"PPP":20,"PTI":61},
      {"week":"2022-07-11","PML-N":35,"PPP":17,"PTI":60},
      {"week":"2022-07-18","PML-N":34,"PPP":21,"PTI":65},
      {"week":"2022-07-25","PML-N":34,"PPP":23,"PTI":63},
      {"week":"2022-08-01","PML-N":35,"PPP":22,"PTI":63},
      {"week":"2022-08-08","PML-N":34,"PPP":22,"PTI":59},
      {"week":"2022-08-15","PML-N":34,"PPP":18,"PTI":61},
      {"week":"2022-08-22","PML-N":35,"PPP":16,"PTI":61},
      {"week":"2022-08-29","PML-N":35,"PPP":21,"PTI":55},
      {"week":"2022-09-05","PML-N":35,"PPP":20,"PTI":57},
      {"week":"2022-09-12","PML-N":35,"PPP":17,"PTI":55},
      {"week":"2022-09-19","PML-N":33,"PPP":21,"PTI":55},
      {"week":"2022-09-26","PML-N":38,"PPP":19,"PTI":59},
      {"week":"2022-10-03","PML-N":35,"PPP":19,"PTI":56},
      {"week":"2022-10-10","PML-N":36,"PPP":22,"PTI":60},
      {"week":"2022-10-17","PML-N":36,"PPP":21,"PTI":60},
      {"week":"2022-10-24","PML-N":35,"PPP":21,"PTI":63},
      {"week":"2022-10-31","PML-N":37,"PPP":20,"PTI":62},
      {"week":"2022-11-07","PML-N":35,"PPP":21,"PTI":61},
      {"week":"2022-11-14","PML-N":35,"PPP":20,"PTI":63},
      {"week":"2022-11-21","PML-N":32,"PPP":21,"PTI":59},
      {"week":"2022-11-28","PML-N":34,"PPP":19,"PTI":65},
      {"week":"2022-12-05","PML-N":34,"PPP":20,"PTI":58},
      {"week":"2022-12-12","PML-N":34,"PPP":20,"PTI":59},
      {"week":"2022-12-19","PML-N":33,"PPP":20,"PTI":55},
      {"week":"2022-12-26","PML-N":34,"PPP":21,"PTI":57}
    ]
  },
  "columns": 1,
  "align": "none",
  "spacing": 8,
  "concat": [
    {
      "width": 788,
      "height": 202,
      "encoding": {
        "x": {
          "field": "week",
          "type": "temporal",
          "title": "Time",
          "scale": {"type": "utc", "domain": [{"year": 2017, "month": 12, "date": 13, "utc": true}, {"year": 2023, "month": 1, "date": 16, "utc": true}]},
          "axis": {
            "values": [
              {"year": 2018, "month": 1, "date": 15, "utc": true}, {"year": 2018, "month": 3, "date": 1, "utc": true}, {"year": 2018, "month": 4, "date": 16, "utc": true}, {"year": 2018, "month": 6, "date": 1, "utc": true},
              {"year": 2018, "month": 7, "date": 17, "utc": true}, {"year": 2018, "month": 9, "date": 1, "utc": true}, {"year": 2018, "month": 10, "date": 16, "utc": true}, {"year": 2018, "month": 12, "date": 1, "utc": true},
              {"year": 2019, "month": 1, "date": 15, "utc": true}, {"year": 2019, "month": 3, "date": 1, "utc": true}, {"year": 2019, "month": 4, "date": 16, "utc": true}, {"year": 2019, "month": 6, "date": 1, "utc": true},
              {"year": 2019, "month": 7, "date": 17, "utc": true}, {"year": 2019, "month": 9, "date": 1, "utc": true}, {"year": 2019, "month": 10, "date": 16, "utc": true}, {"year": 2019, "month": 12, "date": 1, "utc": true},
              {"year": 2020, "month": 1, "date": 15, "utc": true}, {"year": 2020, "month": 3, "date": 1, "utc": true}, {"year": 2020, "month": 4, "date": 16, "utc": true}, {"year": 2020, "month": 6, "date": 1, "utc": true},
              {"year": 2020, "month": 7, "date": 17, "utc": true}, {"year": 2020, "month": 9, "date": 1, "utc": true}, {"year": 2020, "month": 10, "date": 16, "utc": true}, {"year": 2020, "month": 12, "date": 1, "utc": true},
              {"year": 2021, "month": 1, "date": 15, "utc": true}, {"year": 2021, "month": 3, "date": 1, "utc": true}, {"year": 2021, "month": 4, "date": 16, "utc": true}, {"year": 2021, "month": 6, "date": 1, "utc": true},
              {"year": 2021, "month": 7, "date": 17, "utc": true}, {"year": 2021, "month": 9, "date": 1, "utc": true}, {"year": 2021, "month": 10, "date": 16, "utc": true}, {"year": 2021, "month": 12, "date": 1, "utc": true},
              {"year": 2022, "month": 1, "date": 15, "utc": true}, {"year": 2022, "month": 3, "date": 1, "utc": true}, {"year": 2022, "month": 4, "date": 16, "utc": true}, {"year": 2022, "month": 6, "date": 1, "utc": true},
              {"year": 2022, "month": 7, "date": 17, "utc": true}, {"year": 2022, "month": 9, "date": 1, "utc": true}, {"year": 2022, "month": 10, "date": 16, "utc": true}, {"year": 2022, "month": 12, "date": 1, "utc": true}
            ],
            "labelExpr": "utcmonth(datum.value) % 3 == 2 ? utcFormat(datum.value, '%b−%y') : ''",
            "tickOpacity": {"condition": {"test": "utcmonth(datum.value) % 3 == 2", "value": 1}, "value": 0},
            "gridWidth": {"condition": {"test": "utcmonth(datum.value) % 3 == 2", "value": 1}, "value": 0.5},
            "labelFlush": false,
            "labelOverlap": false,
            "titlePadding": 0
          }
        }
      },
      "layer": [
        {
          "data": {"name": "events"},
          "mark": {"type": "rule", "strokeDash": [4, 3], "strokeWidth": 1},
          "encoding": {
            "color": {
              "field": "event",
              "type": "nominal",
              "scale": {"domain": ["General Elections", "VoNC"], "range": ["black", "red"]},
              "legend": {"title": null, "orient": "bottom", "direction": "horizontal", "symbolType": "stroke", "symbolDash": [4, 4], "symbolStrokeWidth": 1}
            }
          }
        },
        {
          "data": {"name": "posts"},
          "transform": [{"fold": ["PML-N", "PPP", "PTI"], "as": ["party", "count"]}],
          "mark": {"type": "line", "strokeWidth": 1},
          "encoding": {
            "y": {
              "field": "count",
              "type": "quantitative",
              "title": "Post Count",
              "scale": {"type": "log", "domain": [7.2, 14600], "nice": false},
              "axis": {
                "values": [10, 31.62, 100, 316.2, 1000, 3162, 10000],
                "labelExpr": "datum.value == 10 ? '10¹' : datum.value == 100 ? '10²' : datum.value == 1000 ? '10³' : datum.value == 10000 ? '10⁴' : ''",
                "tickOpacity": {"condition": {"test": "datum.value == 10 || datum.value == 100 || datum.value == 1000 || datum.value == 10000", "value": 1}, "value": 0},
                "gridWidth": {"condition": {"test": "datum.value == 10 || datum.value == 100 || datum.value == 1000 || datum.value == 10000", "value": 1}, "value": 0.5},
                "labelOverlap": false,
                "titlePadding": 0
              }
            },
            "stroke": {
              "field": "party",
              "type": "nominal",
              "scale": {"domain": ["PML-N", "PPP", "PTI"], "range": ["#E69F00", "#A0522D", "#56B4E9"]},
              "legend": {
                "title": null,
                "orient": "bottom",
                "direction": "horizontal",
                "symbolType": "M-1,0L1,0M-0.33,0A0.33,0.33,0,1,1,0.33,0A0.33,0.33,0,1,1,-0.33,0",
                "symbolStrokeWidth": 1,
                "labelExpr": "datum.label == 'PML-N' ? 'PML−N' : datum.label",
                "encode": {"symbols": {"update": {"fill": {"scale": "stroke", "field": "value"}}}}
              }
            }
          }
        },
        {
          "data": {"name": "posts"},
          "transform": [{"fold": ["PML-N", "PPP", "PTI"], "as": ["party", "count"]}],
          "mark": {"type": "circle", "size": 13, "opacity": 1},
          "encoding": {
            "y": {"field": "count", "type": "quantitative", "title": "Post Count"},
            "fill": {"field": "party", "type": "nominal", "scale": {"domain": ["PML-N", "PPP", "PTI"], "range": ["#E69F00", "#A0522D", "#56B4E9"]}, "legend": null}
          }
        }
      ]
    },
    {
      "width": 793,
      "height": 203,
      "encoding": {
        "x": {
          "field": "week",
          "type": "temporal",
          "title": "Time",
          "scale": {"type": "utc", "domain": [{"year": 2017, "month": 12, "date": 13, "utc": true}, {"year": 2023, "month": 1, "date": 16, "utc": true}]},
          "axis": {
            "values": [
              {"year": 2018, "month": 1, "date": 15, "utc": true}, {"year": 2018, "month": 3, "date": 1, "utc": true}, {"year": 2018, "month": 4, "date": 16, "utc": true}, {"year": 2018, "month": 6, "date": 1, "utc": true},
              {"year": 2018, "month": 7, "date": 17, "utc": true}, {"year": 2018, "month": 9, "date": 1, "utc": true}, {"year": 2018, "month": 10, "date": 16, "utc": true}, {"year": 2018, "month": 12, "date": 1, "utc": true},
              {"year": 2019, "month": 1, "date": 15, "utc": true}, {"year": 2019, "month": 3, "date": 1, "utc": true}, {"year": 2019, "month": 4, "date": 16, "utc": true}, {"year": 2019, "month": 6, "date": 1, "utc": true},
              {"year": 2019, "month": 7, "date": 17, "utc": true}, {"year": 2019, "month": 9, "date": 1, "utc": true}, {"year": 2019, "month": 10, "date": 16, "utc": true}, {"year": 2019, "month": 12, "date": 1, "utc": true},
              {"year": 2020, "month": 1, "date": 15, "utc": true}, {"year": 2020, "month": 3, "date": 1, "utc": true}, {"year": 2020, "month": 4, "date": 16, "utc": true}, {"year": 2020, "month": 6, "date": 1, "utc": true},
              {"year": 2020, "month": 7, "date": 17, "utc": true}, {"year": 2020, "month": 9, "date": 1, "utc": true}, {"year": 2020, "month": 10, "date": 16, "utc": true}, {"year": 2020, "month": 12, "date": 1, "utc": true},
              {"year": 2021, "month": 1, "date": 15, "utc": true}, {"year": 2021, "month": 3, "date": 1, "utc": true}, {"year": 2021, "month": 4, "date": 16, "utc": true}, {"year": 2021, "month": 6, "date": 1, "utc": true},
              {"year": 2021, "month": 7, "date": 17, "utc": true}, {"year": 2021, "month": 9, "date": 1, "utc": true}, {"year": 2021, "month": 10, "date": 16, "utc": true}, {"year": 2021, "month": 12, "date": 1, "utc": true},
              {"year": 2022, "month": 1, "date": 15, "utc": true}, {"year": 2022, "month": 3, "date": 1, "utc": true}, {"year": 2022, "month": 4, "date": 16, "utc": true}, {"year": 2022, "month": 6, "date": 1, "utc": true},
              {"year": 2022, "month": 7, "date": 17, "utc": true}, {"year": 2022, "month": 9, "date": 1, "utc": true}, {"year": 2022, "month": 10, "date": 16, "utc": true}, {"year": 2022, "month": 12, "date": 1, "utc": true}
            ],
            "labelExpr": "utcmonth(datum.value) % 3 == 2 ? utcFormat(datum.value, '%b−%y') : ''",
            "tickOpacity": {"condition": {"test": "utcmonth(datum.value) % 3 == 2", "value": 1}, "value": 0},
            "gridWidth": {"condition": {"test": "utcmonth(datum.value) % 3 == 2", "value": 1}, "value": 0.5},
            "labelFlush": false,
            "labelOverlap": false,
            "titlePadding": 0
          }
        }
      },
      "resolve": {"axis": {"y": "independent"}},
      "layer": [
        {
          "data": {"name": "politicians"},
          "transform": [{"fold": ["PML-N", "PPP", "PTI"], "as": ["party", "count"]}],
          "mark": {"type": "line", "strokeWidth": 1},
          "encoding": {
            "y": {
              "field": "count",
              "type": "quantitative",
              "title": "Politicians Count",
              "scale": {"domain": [1.8, 73.3], "nice": false, "zero": false},
              "axis": {
                "orient": "left",
                "values": [10, 20, 30, 40, 50, 60, 70],
                "gridWidth": 1,
                "labelOverlap": false,
                "titlePadding": 2
              }
            },
            "stroke": {
              "field": "party",
              "type": "nominal",
              "scale": {"domain": ["PML-N", "PPP", "PTI"], "range": ["#E69F00", "#A0522D", "#56B4E9"]},
              "legend": {
                "title": null,
                "orient": "bottom",
                "direction": "horizontal",
                "symbolType": "M-1,0L1,0M-0.33,0A0.33,0.33,0,1,1,0.33,0A0.33,0.33,0,1,1,-0.33,0",
                "symbolStrokeWidth": 1,
                "labelExpr": "datum.label == 'PML-N' ? 'PML−N' : datum.label",
                "encode": {"symbols": {"update": {"fill": {"scale": "stroke", "field": "value"}}}}
              }
            }
          }
        },
        {
          "data": {"name": "politicians"},
          "transform": [{"fold": ["PML-N", "PPP", "PTI"], "as": ["party", "count"]}],
          "mark": {"type": "circle", "size": 13, "opacity": 1},
          "encoding": {
            "y": {
              "field": "count",
              "type": "quantitative",
              "axis": {
                "orient": "right",
                "values": [5, 15, 25, 35, 45, 55, 65],
                "labels": false,
                "ticks": false,
                "domain": false,
                "title": null,
                "gridWidth": 0.5
              }
            },
            "fill": {"field": "party", "type": "nominal", "scale": {"domain": ["PML-N", "PPP", "PTI"], "range": ["#E69F00", "#A0522D", "#56B4E9"]}, "legend": null}
          }
        },
        {
          "data": {"name": "events"},
          "mark": {"type": "rule", "strokeDash": [4, 3], "strokeWidth": 1},
          "encoding": {
            "color": {
              "field": "event",
              "type": "nominal",
              "scale": {"domain": ["General Elections", "VoNC"], "range": ["black", "red"]},
              "legend": {"title": null, "orient": "bottom", "direction": "horizontal", "symbolType": "stroke", "symbolDash": [4, 4], "symbolStrokeWidth": 1}
            }
          }
        }
      ]
    }
  ],
  "resolve": {"scale": {"x": "independent", "y": "independent"}}
}
